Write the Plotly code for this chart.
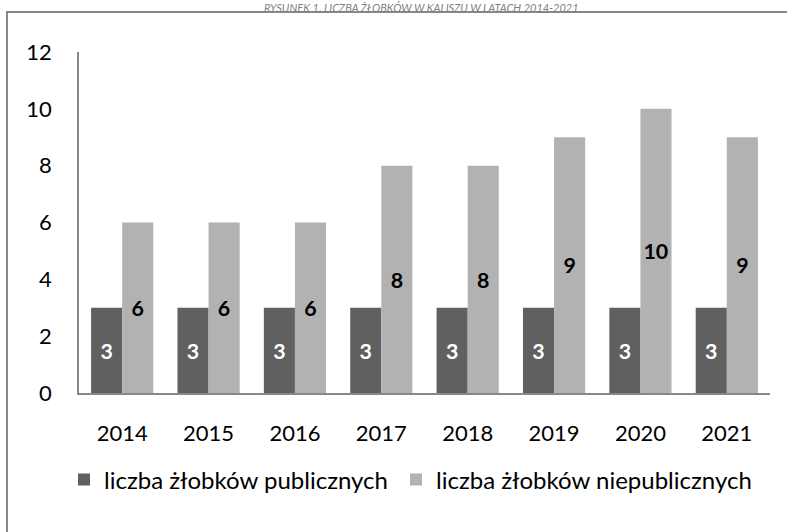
import plotly.graph_objects as go

years = ["2014", "2015", "2016", "2017", "2018", "2019", "2020", "2021"]
public = [3, 3, 3, 3, 3, 3, 3, 3]
nonpublic = [6, 6, 6, 8, 8, 9, 10, 9]
y_ticks = [0, 2, 4, 6, 8, 10, 12]
series_names = ["liczba żłobków publicznych", "liczba żłobków niepublicznych"]
title_text = "RYSUNEK 1. LICZBA ŻŁOBKÓW W KALISZU W LATACH 2014-2021"

FONT = "Lato"
W, H = 787, 532
# paper region = outer frame (left edge x=8, top edge y=13)
ML, MT = 8, 13
PW, PH = W - ML, H - MT

def px(x):
    return (x - ML) / PW

def py(y):
    return (H - y) / PH

# inner plot area in pixels
AX_L, AX_R, AX_T, AX_B = 79, 770, 52, 393

fig = go.Figure()
fig.add_trace(go.Bar(
    x=years, y=public, name=series_names[0], legend="legend",
    marker=dict(color="#606060", line=dict(width=0)),
    text=[str(v) for v in public], textposition="inside",
    insidetextanchor="middle", textangle=0,
    textfont=dict(color="white", size=22, family=FONT, weight="bold"),
))
fig.add_trace(go.Bar(
    x=years, y=nonpublic, name=series_names[1], legend="legend2",
    marker=dict(color="#b2b2b2", line=dict(width=0)),
    text=[str(v) for v in nonpublic], textposition="inside",
    insidetextanchor="middle", textangle=0,
    textfont=dict(color="black", size=22, family=FONT, weight="bold"),
))
# empty trace that carries the frame axes
fig.add_trace(go.Scatter(x=[], y=[], xaxis="x2", yaxis="y2",
                         showlegend=False, hoverinfo="skip"))

leg_common = dict(orientation="h", xanchor="left", yanchor="middle",
                  y=py(480), font=dict(size=24, family=FONT, color="black"),
                  itemwidth=30, bgcolor="rgba(0,0,0,0)", borderwidth=0)

frame_axis = dict(domain=[0, 1], range=[0, 1], showline=True,
                  linecolor="#888888", linewidth=1.5, showticklabels=False,
                  ticks="", showgrid=False, zeroline=False,
                  fixedrange=True, automargin=False)

fig.update_layout(
    template="none",
    width=W, height=H, autosize=False,
    margin=dict(l=ML, r=0, t=MT, b=0, pad=0, autoexpand=False),
    paper_bgcolor="white", plot_bgcolor="rgba(0,0,0,0)",
    barmode="group", bargap=0.28, bargroupgap=0,
    font=dict(family=FONT, size=22, color="black"),
    showlegend=True,
    legend=dict(x=px(64), **leg_common),
    legend2=dict(x=px(396), **leg_common),
    uniformtext=dict(minsize=14, mode="show"),
    xaxis=dict(domain=[px(AX_L), px(AX_R)], anchor="y",
               showline=True, linecolor="#888888", linewidth=1.5,
               ticks="", ticklabelstandoff=20, showgrid=False,
               zeroline=False, automargin=False,
               tickfont=dict(size=22, family=FONT, color="black")),
    yaxis=dict(domain=[py(AX_B), py(AX_T)], anchor="x",
               range=[0, 12], tickvals=y_ticks, showgrid=False,
               showline=True, linecolor="#888888", linewidth=1.5,
               ticks="", ticklabelstandoff=21, zeroline=False,
               automargin=False,
               tickfont=dict(size=22, family=FONT, color="black")),
    xaxis2=dict(anchor="y2", side="top", **frame_axis),
    yaxis2=dict(anchor="x2", side="left", **frame_axis),
)

fig.add_annotation(text="<i>" + title_text + "</i>", xref="paper", yref="paper",
                   x=px(422), y=py(16.5), xanchor="center", yanchor="bottom",
                   showarrow=False,
                   font=dict(size=11, family=FONT, color="#7f7f7f"))

fig.write_html("out.html", config={"displayModeBar": False},
               post_script="document.body.style.margin='0';")
